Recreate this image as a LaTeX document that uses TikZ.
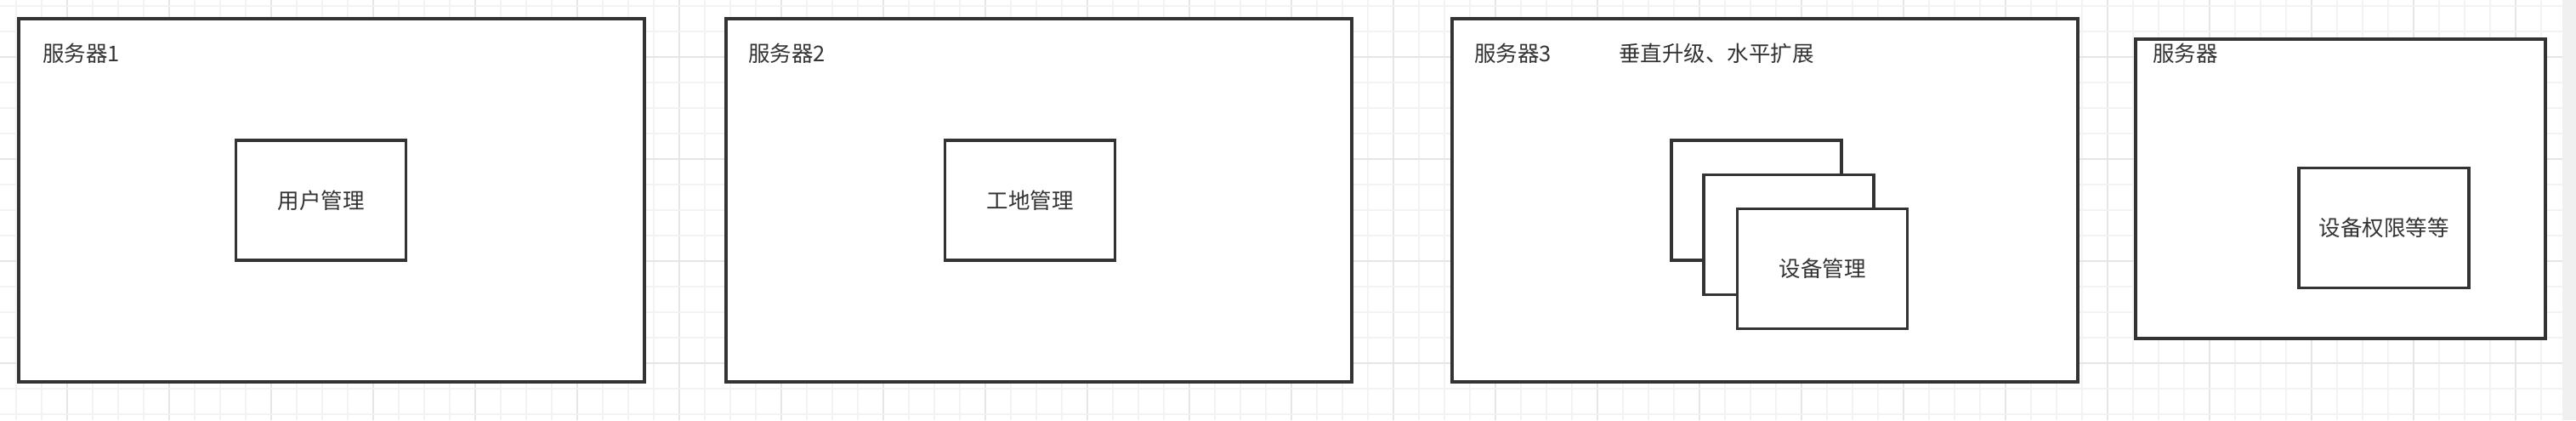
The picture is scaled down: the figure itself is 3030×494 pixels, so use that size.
\documentclass[tikz,border=0pt]{standalone}
\usepackage{fontspec}
\setmainfont{Noto Sans CJK SC}
\definecolor{ink}{HTML}{333333}
\definecolor{gridminor}{HTML}{F3F3F3}
\definecolor{gridmajor}{HTML}{E6E6E6}
\definecolor{strip}{HTML}{F0F0F0}
\tikzset{
  server/.style={draw=ink, line width=1.6pt, fill=white, inner sep=0pt},
  svcbox/.style={draw=ink, line width=1.6pt, fill=white, inner sep=0pt,
    minimum width=100pt, minimum height=70.5pt, text=ink, font=\fontsize{12.75pt}{15pt}\selectfont},
  lbl/.style={anchor=west, inner sep=0pt, text=ink, font=\fontsize{12.75pt}{15pt}\selectfont}
}
\begin{document}
\begin{tikzpicture}[x=0.5pt,y=-0.5pt]
\useasboundingbox (0,0) rectangle (3030,494);
\fill[white] (0,0) rectangle (3030,494);
% grid
\foreach \k in {0,...,99}{
  \pgfmathsetmacro{\gx}{19+30*\k}
  \pgfmathtruncatemacro{\m}{mod(\k,4)}
  \ifnum\m=2
    \draw[gridmajor, line width=1pt] (\gx,0) -- (\gx,494);
  \else
    \draw[gridminor, line width=1pt] (\gx,0) -- (\gx,494);
  \fi
}
\foreach \k in {0,...,16}{
  \pgfmathsetmacro{\gy}{6.7+30*\k}
  \pgfmathtruncatemacro{\m}{mod(\k,4)}
  \ifnum\m=2
    \draw[gridmajor, line width=1pt] (0,\gy) -- (3014,\gy);
  \else
    \draw[gridminor, line width=1pt] (0,\gy) -- (3014,\gy);
  \fi
}
\fill[strip] (3014,0) rectangle (3030,494);
% servers
\node[server, minimum width=368pt, minimum height=213.5pt] (s1) at (390,235.5) {};
\node[server, minimum width=368pt, minimum height=213.5pt] (s2) at (1222,235.5) {};
\node[server, minimum width=368pt, minimum height=213.5pt] (s3) at (2076,235.5) {};
\node[server, minimum width=241pt, minimum height=176pt] (s4) at (2753,222) {};
% labels
\node[lbl] (l1) at (50,63) {服务器1};
\node[lbl] (l2) at (880,63) {服务器2};
\node[lbl] (l3) at (1734,63) {服务器3};
\node[lbl] (l3b) at (1904,63) {垂直升级、水平扩展};
\node[lbl] (l4) at (2532,63) {服务器};
% inner services
\node[svcbox] (user) at (377.75,235.5) {用户管理};
\node[svcbox] (site) at (1211.5,235.5) {工地管理};
\node[svcbox] (devA) at (2066,235.5) {};
\node[svcbox] (devB) at (2104,275.8) {};
\node[svcbox] (devC) at (2143.5,315.8) {设备管理};
\node[svcbox] (perm) at (2804,268) {设备权限等等};
\end{tikzpicture}
\end{document}
